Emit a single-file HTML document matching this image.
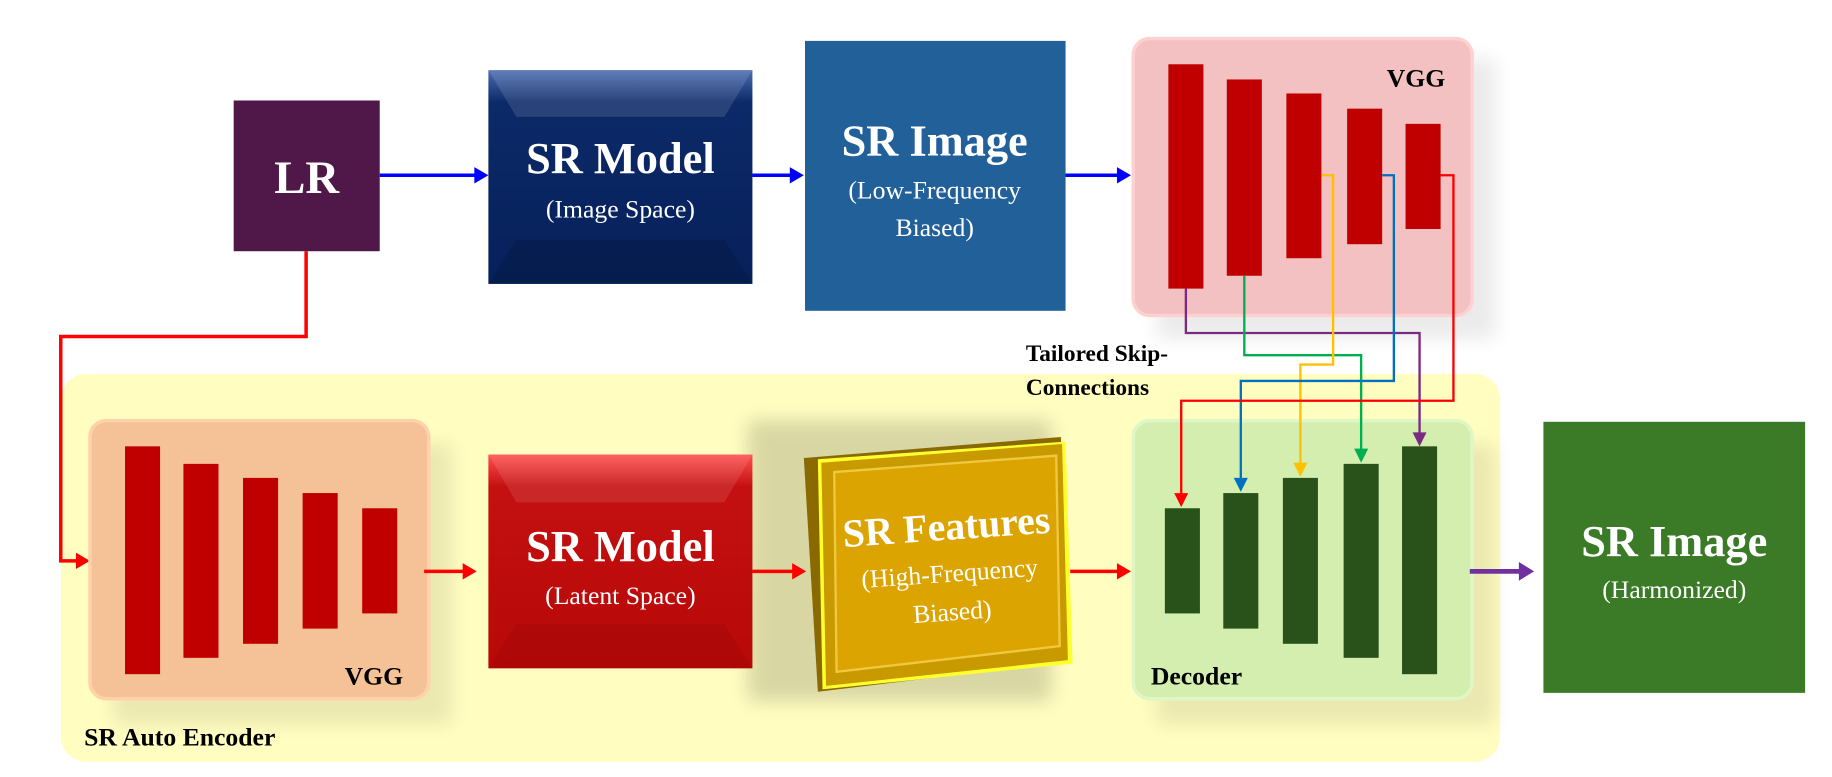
<!DOCTYPE html>
<html><head><meta charset="utf-8"><style>html,body{margin:0;padding:0;background:#fff;width:1832px;height:777px;overflow:hidden}svg{display:block}</style></head>
<body>
<svg width="1832" height="777" viewBox="0 0 1568 665" preserveAspectRatio="none" xmlns="http://www.w3.org/2000/svg" font-family="'Liberation Serif', serif">
<defs>
<linearGradient id="nav" x1="0" y1="0" x2="0" y2="1"><stop offset="0" stop-color="#4a6cb0"/><stop offset="0.15" stop-color="#0c2a68"/><stop offset="1" stop-color="#06205a"/></linearGradient>
<linearGradient id="red" x1="0" y1="0" x2="0" y2="1"><stop offset="0" stop-color="#ff5050"/><stop offset="0.15" stop-color="#c41010"/><stop offset="1" stop-color="#b80808"/></linearGradient>
<filter id="sh" x="-20%" y="-20%" width="140%" height="140%"><feGaussianBlur stdDeviation="8"/></filter>
</defs>
<rect x="52" y="320" width="1232" height="332" rx="22" fill="#fffdc0"/>
<rect x="990" y="50" width="290" height="240" fill="#000" opacity="0.08" filter="url(#sh)"/>
<rect x="97" y="380" width="290" height="240" fill="#000" opacity="0.08" filter="url(#sh)"/>
<rect x="990" y="380" width="290" height="240" fill="#000" opacity="0.08" filter="url(#sh)"/>
<rect x="640" y="360" width="260" height="240" fill="#000" opacity="0.15" filter="url(#sh)"/>
<rect x="200" y="86" width="125" height="129" fill="#4f1848"/>
<text x="262.5" y="165" font-size="40" font-weight="bold" fill="#fff" text-anchor="middle">LR</text>
<rect x="418" y="60" width="226" height="183" fill="url(#nav)"/>
<polygon points="418,60 644,60 620,100 442,100" fill="#fff" opacity="0.12"/>
<polygon points="418,243 644,243 620,205 442,205" fill="#000" opacity="0.12"/>
<text x="531" y="148" font-size="38" font-weight="bold" fill="#fff" text-anchor="middle">SR Model</text>
<text x="531" y="186" font-size="22" fill="#fff" text-anchor="middle">(Image Space)</text>
<rect x="689" y="35" width="223" height="231" fill="#22609a"/>
<text x="800" y="133" font-size="38" font-weight="bold" fill="#fff" text-anchor="middle">SR Image</text>
<text x="800" y="170" font-size="22" fill="#fff" text-anchor="middle">(Low-Frequency</text>
<text x="800" y="202" font-size="22" fill="#fff" text-anchor="middle">Biased)</text>
<rect x="970" y="33" width="290" height="237" rx="14" fill="#f3c1c1" stroke="#ffd0d0" stroke-width="3"/>
<g fill="#c00000"><rect x="1000" y="55" width="30" height="192"/><rect x="1050" y="68" width="30" height="168"/><rect x="1101" y="80" width="30" height="141"/><rect x="1153" y="93" width="30" height="116"/><rect x="1203" y="106" width="30" height="90"/></g>
<text x="1237" y="74" font-size="22" font-weight="bold" fill="#000" text-anchor="end">VGG</text>
<g stroke="#0000ff" stroke-width="3"><line x1="325" y1="150" x2="408" y2="150"/><line x1="644" y1="150" x2="678" y2="150"/><line x1="912" y1="150" x2="958" y2="150"/></g>
<g fill="#0000ff"><polygon points="406,143 418,150 406,157"/><polygon points="676,143 688,150 676,157"/><polygon points="956,143 968,150 956,157"/></g>
<polyline points="262,215 262,288 52,288 52,480 67,480" fill="none" stroke="#ff0000" stroke-width="3"/>
<polygon points="65,473 77,480 65,487" fill="#ff0000"/>
<text x="878" y="309" font-size="20" font-weight="bold" fill="#000">Tailored Skip-</text>
<text x="878" y="338" font-size="20" font-weight="bold" fill="#000">Connections</text>
<rect x="77" y="360" width="290" height="238" rx="14" fill="#f5c298" stroke="#ffd2ac" stroke-width="3"/>
<g fill="#c00000"><rect x="107" y="382" width="30" height="195"/><rect x="157" y="397" width="30" height="166"/><rect x="208" y="409" width="30" height="142"/><rect x="259" y="422" width="30" height="116"/><rect x="310" y="435" width="30" height="90"/></g>
<text x="345" y="586" font-size="22" font-weight="bold" fill="#000" text-anchor="end">VGG</text>
<rect x="418" y="389" width="226" height="183" fill="url(#red)"/>
<polygon points="418,389 644,389 620,430 442,430" fill="#fff" opacity="0.1"/>
<polygon points="418,572 644,572 620,534 442,534" fill="#000" opacity="0.06"/>
<text x="531" y="480" font-size="38" font-weight="bold" fill="#fff" text-anchor="middle">SR Model</text>
<text x="531" y="517" font-size="22" fill="#fff" text-anchor="middle">(Latent Space)</text>
<polygon points="688,392 908,374 915,566 700,592" fill="#8a6a00"/>
<polygon points="700,393 912,378 918,568 704,590" fill="#ffff30"/>
<polygon points="703,396 909,380 914,565 707,587" fill="#c89a00"/>
<polygon points="714,404 904,390 907,553 716,575" fill="#dba400" stroke="#f0c840" stroke-width="2"/>
<g transform="rotate(-4 812 480)">
<text x="812" y="462" font-size="34" font-weight="bold" fill="#fff" text-anchor="middle">SR Features</text>
<text x="812" y="498" font-size="22" fill="#fff" text-anchor="middle">(High-Frequency</text>
<text x="812" y="531" font-size="22" fill="#fff" text-anchor="middle">Biased)</text>
</g>
<rect x="970" y="360" width="290" height="238" rx="14" fill="#d4eeb0" stroke="#e0f6c4" stroke-width="3"/>
<g fill="#285219"><rect x="997" y="435" width="30" height="90"/><rect x="1047" y="422" width="30" height="116"/><rect x="1098" y="409" width="30" height="142"/><rect x="1150" y="397" width="30" height="166"/><rect x="1200" y="382" width="30" height="195"/></g>
<text x="985" y="586" font-size="22" font-weight="bold" fill="#000">Decoder</text>
<g fill="none" stroke-width="2">
<polyline points="1015,247 1015,285 1215,285 1215,372" stroke="#7a2a80"/>
<polyline points="1065,236 1065,304 1165,304 1165,386" stroke="#00b050"/>
<polyline points="1131,150 1141,150 1141,312 1113,312 1113,398" stroke="#ffc000"/>
<polyline points="1183,150 1193,150 1193,326 1062,326 1062,411" stroke="#0070c0"/>
<polyline points="1233,150 1244,150 1244,343 1011,343 1011,424" stroke="#ff0000"/>
</g>
<polygon points="1209,370 1221,370 1215,382" fill="#7a2a80"/>
<polygon points="1159,384 1171,384 1165,396" fill="#00b050"/>
<polygon points="1107,396 1119,396 1113,408" fill="#ffc000"/>
<polygon points="1056,409 1068,409 1062,421" fill="#0070c0"/>
<polygon points="1005,422 1017,422 1011,434" fill="#ff0000"/>
<g stroke="#ff0000" stroke-width="3"><line x1="363" y1="489" x2="398" y2="489"/><line x1="644" y1="489" x2="680" y2="489"/><line x1="916" y1="489" x2="958" y2="489"/></g>
<g fill="#ff0000"><polygon points="396,482 408,489 396,496"/><polygon points="678,482 690,489 678,496"/><polygon points="956,482 968,489 956,496"/></g>
<line x1="1258" y1="489" x2="1302" y2="489" stroke="#7030a0" stroke-width="4"/>
<polygon points="1300,481 1313,489 1300,497" fill="#7030a0"/>
<rect x="1321" y="361" width="224" height="232" fill="#3b7b27"/>
<text x="1433" y="476" font-size="38" font-weight="bold" fill="#fff" text-anchor="middle">SR Image</text>
<text x="1433" y="512" font-size="22" fill="#fff" text-anchor="middle">(Harmonized)</text>
<text x="72" y="638" font-size="22" font-weight="bold" fill="#000">SR Auto Encoder</text>
</svg>
</body></html>
